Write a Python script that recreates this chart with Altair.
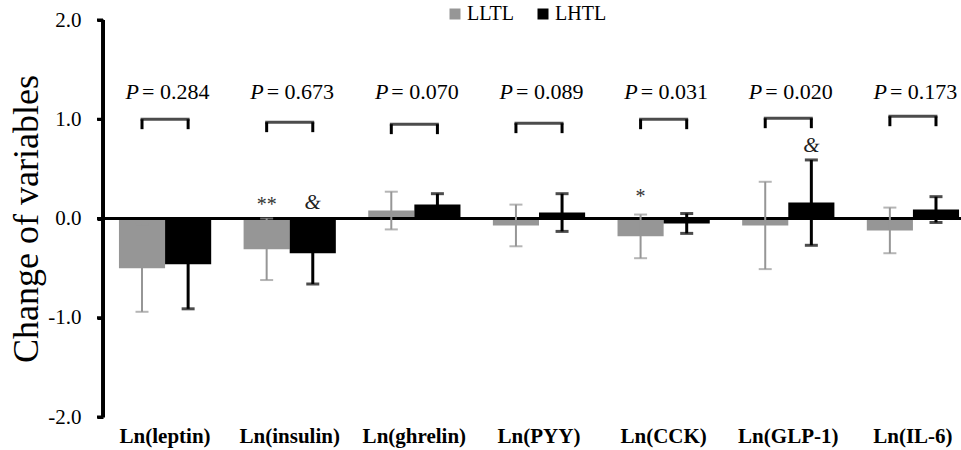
import altair as alt
import pandas as pd

groups = ["Ln(leptin)", "Ln(insulin)", "Ln(ghrelin)", "Ln(PYY)", "Ln(CCK)", "Ln(GLP-1)", "Ln(IL-6)"]
series = ["LLTL", "LHTL"]
lltl_mean = [-0.50, -0.31, 0.08, -0.07, -0.18, -0.07, -0.12]
lltl_sd = [0.44, 0.31, 0.19, 0.21, 0.22, 0.44, 0.23]
lhtl_mean = [-0.46, -0.35, 0.14, 0.06, -0.05, 0.16, 0.09]
lhtl_sd = [0.45, 0.31, 0.11, 0.19, 0.10, 0.43, 0.13]
p_values = ["0.284", "0.673", "0.070", "0.089", "0.031", "0.020", "0.173"]
bracket_level = [1.00, 0.97, 0.95, 0.96, 1.00, 1.01, 1.03]
p_level = 1.20
y_ticks = [-2, -1, 0, 1, 2]
mark_groups = ["Ln(insulin)", "Ln(insulin)", "Ln(CCK)", "Ln(GLP-1)"]
mark_series = ["LLTL", "LHTL", "LLTL", "LHTL"]
mark_text = ["**", "&", "*", "&"]
mark_level = [0.14, 0.16, 0.22, 0.73]

FONT = "Liberation Serif"
GRAY = "#969696"

rows = []
for i, g in enumerate(groups):
    rows.append({"group": g, "series": "LLTL", "mean": lltl_mean[i], "sd": lltl_sd[i]})
    rows.append({"group": g, "series": "LHTL", "mean": lhtl_mean[i], "sd": lhtl_sd[i]})
df = pd.DataFrame(rows)
df["lo"] = df["mean"] - df["sd"]
df["hi"] = df["mean"] + df["sd"]

pdf = pd.DataFrame({"group": groups, "p": ["= " + p for p in p_values],
                    "plevel": [p_level] * len(groups), "level": bracket_level})
legs = pd.DataFrame([{"group": g, "series": s, "level": bracket_level[i]}
                     for i, g in enumerate(groups) for s in series])
mdf = pd.DataFrame({"group": mark_groups, "series": mark_series,
                    "txt": mark_text, "level": mark_level})
tdf = pd.DataFrame({"tick": y_ticks})

xscale = alt.Scale(domain=groups, range=[0, 872], paddingInner=0.26, paddingOuter=0.128)
yscale = alt.Scale(domain=[-2, 2], nice=False)
xoff = alt.XOffset("series:N", scale=alt.Scale(domain=series, paddingInner=0, paddingOuter=0))

X = alt.X("group:N", scale=xscale,
          axis=alt.Axis(orient="bottom", domain=False, ticks=False, labelAngle=0, title=None,
                        labelFont=FONT, labelFontSize=21, labelFontWeight="bold",
                        labelColor="black", labelPadding=8))
Y = alt.Y("mean:Q", scale=yscale,
          axis=alt.Axis(values=y_ticks,
                        labelExpr="(datum.value < 0 ? '-' : '') + format(abs(datum.value), '.1f')",
                        grid=False, title="Change of variables",
                        domainWidth=3, domainColor="black", tickWidth=3, tickColor="black",
                        tickSize=6, labelFont=FONT, labelFontSize=21, labelColor="black",
                        labelPadding=16, titleFont=FONT, titleFontSize=36,
                        titleFontWeight="normal", titleColor="black", titlePadding=2))


def xq(field="group:N"):
    return alt.X(field, scale=xscale)


def yq(field):
    return alt.Y(field, scale=yscale)


color = alt.Color("series:N", scale=alt.Scale(domain=series, range=[GRAY, "black"]),
                  legend=alt.Legend(orient="none", legendX=342, legendY=-16,
                                    direction="horizontal", title=None, symbolType="square",
                                    symbolSize=121, symbolStrokeWidth=0, labelFont=FONT,
                                    labelFontSize=20, labelColor="black", columnPadding=18,
                                    labelOffset=2, padding=0))

base = alt.Chart(df)
bars = base.mark_bar().encode(x=X, xOffset=xoff, y=Y, color=color)
zero = alt.Chart(df).mark_rule(color="black", strokeWidth=3).encode(y=alt.datum(0))

# y axis line and ticks drawn as thick rules
axis_line = alt.Chart(tdf).mark_rule(color="black", strokeWidth=3).encode(
    x=alt.value(0), y=alt.datum(-2), y2=alt.datum(2))
axis_ticks = alt.Chart(tdf).mark_rule(color="black", strokeWidth=3).encode(
    x=alt.value(-6), x2=alt.value(0), y=yq("tick:Q"))

err_layers = []
for s, w, c in [("LLTL", 2, GRAY), ("LHTL", 3, "black")]:
    sub = base.transform_filter(alt.datum.series == s)
    err_layers.append(sub.mark_rule(strokeWidth=w, color=c).encode(
        x=xq(), xOffset=xoff, y=yq("lo:Q"), y2="hi:Q"))
    err_layers.append(sub.mark_tick(size=13, thickness=w, color=c).encode(
        x=xq(), xOffset=xoff, y=yq("hi:Q")))
    err_layers.append(sub.mark_tick(size=13, thickness=w, color=c).encode(
        x=xq(), xOffset=xoff, y=yq("lo:Q")))

br_top = alt.Chart(pdf).mark_tick(size=49, thickness=3, color="black").encode(
    x=xq(), y=yq("level:Q"))
br_legs = alt.Chart(legs).transform_calculate(low="datum.level - 0.10").mark_rule(
    strokeWidth=3, color="black").encode(
    x=xq(), xOffset=xoff, y=yq("level:Q"), y2="low:Q")
p_italic = alt.Chart(pdf).mark_text(font=FONT, fontSize=22, fontStyle="italic", align="right",
                                    baseline="alphabetic", dx=-26, color="black").encode(
    x=xq(), y=yq("plevel:Q"), text=alt.value("P"))
p_text = alt.Chart(pdf).mark_text(font=FONT, fontSize=22, align="left",
                                  baseline="alphabetic", dx=-23, color="black").encode(
    x=xq(), y=yq("plevel:Q"), text="p:N")

stars = alt.Chart(mdf).transform_filter(alt.datum.txt != "&").mark_text(
    font=FONT, fontSize=20, baseline="middle", color="#333333").encode(
    x=xq(), xOffset=xoff, y=yq("level:Q"), text="txt:N")
amps = alt.Chart(mdf).transform_filter(alt.datum.txt == "&").mark_text(
    font=FONT, fontSize=21, fontStyle="italic", baseline="middle", color="#222222").encode(
    x=xq(), xOffset=xoff, y=yq("level:Q"), text="txt:N")

chart = alt.layer(bars, zero, *err_layers, br_top, br_legs, p_italic, p_text, stars, amps,
                  axis_line, axis_ticks).properties(
    width=858, height=397,
    background="white",
    autosize=alt.AutoSizeParams(type="none"),
    padding={"left": 103, "top": 20, "right": 0, "bottom": 33},
).configure_view(stroke=None)

chart.save("out.html", embed_options={"renderer": "svg", "actions": False})
